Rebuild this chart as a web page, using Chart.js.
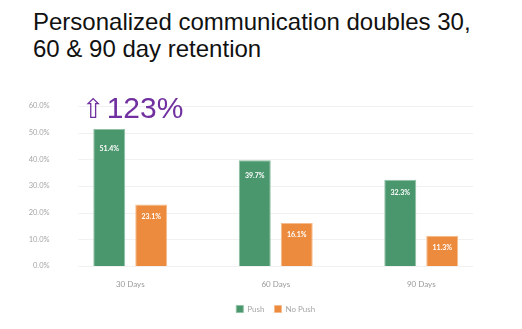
<!DOCTYPE html>
<html>
<head>
<meta charset="utf-8">
<script src="https://cdn.jsdelivr.net/npm/chart.js@4"></script>
<style>
  html, body { margin: 0; padding: 0; background: #fff; }
  #wrap { position: relative; width: 522px; height: 329px; overflow: hidden; }
  #title {
    position: absolute; left: 33px; top: 8px;
    font-family: "Liberation Sans", Arial, sans-serif; font-size: 24px; line-height: 27px;
    color: #111; white-space: pre;
  }
  #callout {
    position: absolute; left: 82px; top: 90px;
    font-family: "Liberation Sans", Arial, sans-serif; font-size: 30px; line-height: 36px;
    color: #7030a0; white-space: pre;
  }
  #callout .arrow { font-family: "DejaVu Sans", sans-serif; font-size: 27px; margin-right: 2px; }
  canvas { position: absolute; left: 0; top: 0; }
</style>
</head>
<body>
<div id="wrap">
  <div id="title">Personalized communication doubles 30,
60 &amp; 90 day retention</div>
  <canvas id="chart" width="522" height="329"></canvas>
  <div id="callout"><span class="arrow">⇧</span>123%</div>
</div>
<script>
// chart data
const categories = ['30 Days', '60 Days', '90 Days'];
const pushValues = [51.4, 39.7, 32.3];
const noPushValues = [23.1, 16.1, 11.3];
const yTicks = [0, 10, 20, 30, 40, 50, 60];

const GREEN = '#4a966d';
const ORANGE = '#ec8b3d';
const LABEL_FONT = "Lato, 'Open Sans', sans-serif";

// faint horizontal grid lines, inset from the plot edges like the original
const insetGrid = {
  id: 'insetGrid',
  beforeDatasetsDraw(chart) {
    const { ctx, chartArea, scales } = chart;
    const inset = 21;
    ctx.save();
    ctx.strokeStyle = '#f1f1f1';
    ctx.lineWidth = 1;
    scales.y.ticks.forEach(t => {
      const y = Math.round(scales.y.getPixelForValue(t.value)) + 0.5;
      ctx.beginPath();
      ctx.moveTo(chartArea.left + inset, y);
      ctx.lineTo(chartArea.right - inset, y);
      ctx.stroke();
    });
    ctx.restore();
  }
};

// white value labels just inside the top of each bar
const barLabels = {
  id: 'barLabels',
  afterDatasetsDraw(chart) {
    const { ctx } = chart;
    ctx.save();
    ctx.fillStyle = '#ffffff';
    ctx.font = `bold 7px ${LABEL_FONT}`;
    ctx.textAlign = 'center';
    ctx.textBaseline = 'middle';
    chart.data.datasets.forEach((ds, i) => {
      chart.getDatasetMeta(i).data.forEach((bar, j) => {
        const h = bar.base - bar.y;
        const off = Math.max(12, Math.min(20, h * 0.15));
        ctx.fillText(ds.data[j].toFixed(1) + '%', bar.x, bar.y + off);
      });
    });
    ctx.restore();
  }
};

// center the legend under the plot area rather than the whole canvas
const centerLegend = {
  id: 'centerLegend',
  afterLayout(chart) {
    const lg = chart.legend, ca = chart.chartArea;
    const shift = (ca.left + ca.right) / 2 - (lg.left + lg.right) / 2;
    lg.left += shift;
    lg.right += shift;
  }
};

new Chart(document.getElementById('chart'), {
  type: 'bar',
  data: {
    labels: categories,
    datasets: [
      {
        label: 'Push',
        data: pushValues,
        backgroundColor: GREEN,
        borderColor: '#8fc1a4',
        borderWidth: 1,
        categoryPercentage: 0.577,
        barPercentage: 0.762
      },
      {
        label: 'No Push',
        data: noPushValues,
        backgroundColor: ORANGE,
        borderColor: '#f5bb8c',
        borderWidth: 1,
        categoryPercentage: 0.577,
        barPercentage: 0.762
      }
    ]
  },
  options: {
    responsive: false,
    animation: false,
    layout: { padding: { top: 106, right: 28, bottom: 6, left: 0 } },
    plugins: {
      title: { display: false },
      tooltip: { enabled: false },
      legend: {
        position: 'bottom',
        labels: {
          boxWidth: 7, boxHeight: 7, padding: 10,
          color: '#a6a6a6',
          font: { family: LABEL_FONT, size: 8 }
        }
      }
    },
    scales: {
      x: {
        grid: { display: false },
        border: { display: false },
        ticks: { color: '#999', padding: 6, font: { family: LABEL_FONT, size: 8 } },
        afterFit: s => { s.height = 29; }
      },
      y: {
        min: 0,
        max: 60,
        grid: { display: false },
        border: { display: false },
        afterBuildTicks: s => { s.ticks = yTicks.map(v => ({ value: v })); },
        ticks: {
          color: '#a6a6a6',
          padding: 0,
          font: { family: LABEL_FONT, size: 7.5 },
          callback: v => v.toFixed(1) + '%'
        },
        afterFit: s => { s.width = 57.5; }
      }
    }
  },
  plugins: [insetGrid, barLabels, centerLegend]
});
</script>
</body>
</html>
